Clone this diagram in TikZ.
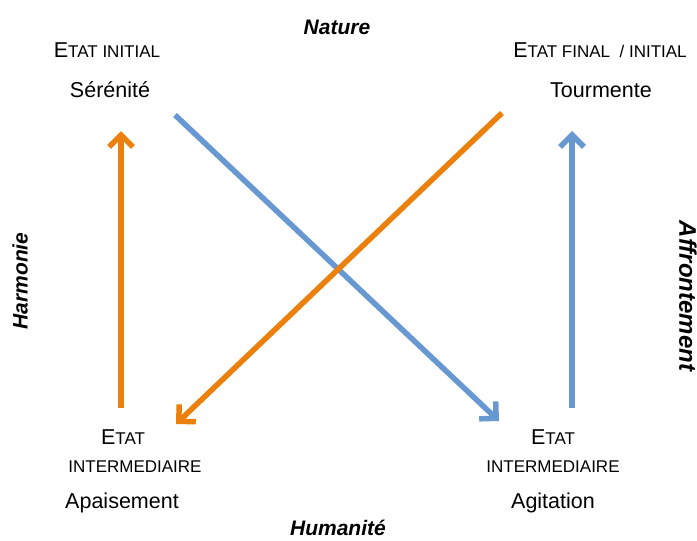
\documentclass[tikz,border=0pt]{standalone}
\usepackage{fontspec}
\setmainfont{Liberation Sans}
\usetikzlibrary{arrows.meta}
\definecolor{orng}{RGB}{236,128,12}
\definecolor{blu}{RGB}{104,152,210}
\newcommand{\bigtxt}{\fontsize{21}{24}\selectfont}
\newcommand{\smtxt}{\fontsize{17}{20}\selectfont}
\newcommand{\captxt}{\fontsize{21.5}{24}\selectfont}
\begin{document}
\begin{tikzpicture}[x=1pt,y=-1pt,
  lbl/.style={inner sep=0pt,anchor=center},
  side/.style={inner sep=0pt,anchor=center,font=\bigtxt\bfseries\itshape},
  arr/.style={line width=5.5pt,-{Straight Barb[length=12pt,width=24pt,line width=5.5pt]}}]
\useasboundingbox (0,0) rectangle (697,541);
% titles
\node[side] (nature) at (337,27) {Nature};
\node[side] (humanite) at (338,528) {Humanité};
\node[side,rotate=90] (harmonie) at (20,281) {Harmonie};
\node[side,rotate=-90,font=\fontsize{24}{26}\selectfont\bfseries\itshape] (affront) at (688,296) {Affrontement};
% top left
\node[lbl] (ei) at (107,50) {{\captxt E}{\smtxt TAT INITIAL}};
\node[lbl] (ser) at (110,90) {\captxt Sérénité};
% top right
\node[lbl] (ef) at (600,50) {{\captxt E}{\smtxt TAT FINAL\ \ / INITIAL}};
\node[lbl] (tour) at (601,90) {\captxt Tourmente};
% bottom left
\node[lbl] (etl) at (123,437) {{\captxt E}{\smtxt TAT}};
\node[lbl] (intl) at (135,467) {\smtxt INTERMEDIAIRE};
\node[lbl] (apa) at (122,503) {\captxt Apaisement};
% bottom right
\node[lbl] (etr) at (553,437) {{\captxt E}{\smtxt TAT}};
\node[lbl] (intr) at (553,467) {\smtxt INTERMEDIAIRE};
\node[lbl] (agi) at (553,503) {\captxt Agitation};
% arrow end points
\coordinate (ola) at (121,408);
\coordinate (olb) at (121,131);
\coordinate (bra) at (572,408);
\coordinate (brb) at (572,131);
\coordinate (bda) at (175,115);
\coordinate (bdb) at (499,421);
\coordinate (oda) at (502,113);
\coordinate (odb) at (176,424);
% arrows
\draw[arr,blu] (bda) -- (bdb);
\draw[arr,orng] (oda) -- (odb);
\draw[arr,orng] (ola) -- (olb);
\draw[arr,blu] (bra) -- (brb);
\end{tikzpicture}
\end{document}
